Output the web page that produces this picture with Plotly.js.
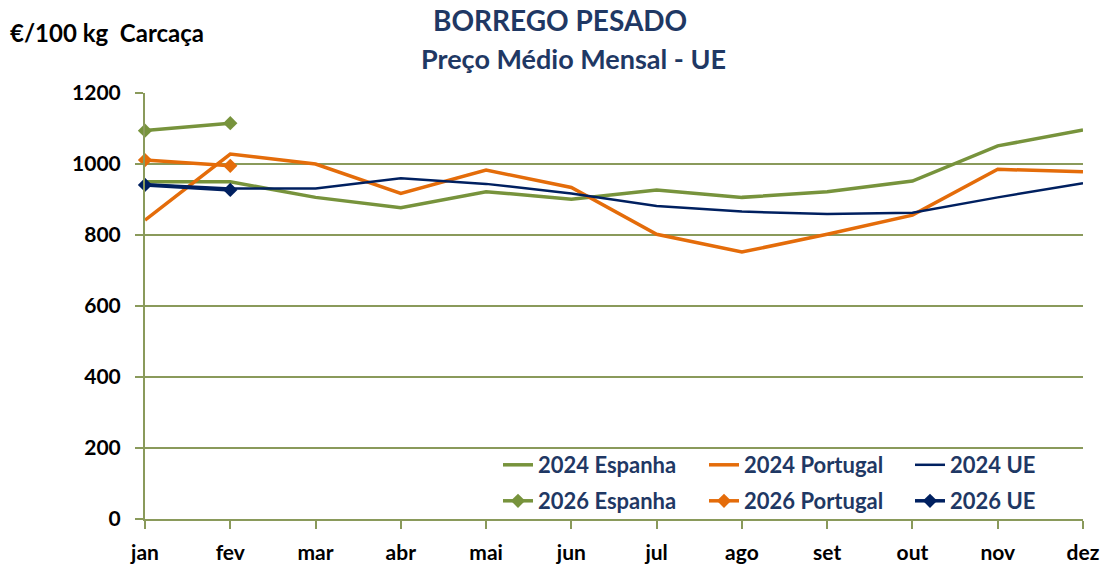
<!DOCTYPE html>
<html><head><meta charset="utf-8">
<script src="https://cdn.plot.ly/plotly-3.0.1.min.js"></script>
<style>html,body{margin:0;padding:0;background:#fff}#chart{width:1106px;height:564px}</style>
</head><body><div id="chart"></div>
<script>
const months = ['jan','fev','mar','abr','mai','jun','jul','ago','set','out','nov','dez'];
const esp2024 = [950, 950, 906, 877, 922, 901, 927, 906, 922, 952, 1051, 1096];
const por2024 = [842, 1028, 1000, 917, 983, 934, 802, 752, 802, 856, 985, 978];
const ue2024  = [943, 931, 931, 960, 944, 917, 882, 866, 859, 863, 906, 946];
const esp2026 = [1094, 1115];
const por2026 = [1011, 995];
const ue2026  = [941, 927];
const yTicks = [0, 200, 400, 600, 800, 1000, 1200];

const GREEN = '#77933C', ORANGE = '#E46C0A', NAVY = '#002060', TXT = '#1F3864', GRID = '#8A9A5B';
const FONT = 'Lato, "Open Sans", sans-serif';

function tr(name, y, color, width, marker, legend) {
  const t = {type:'scatter', x: months.slice(0, y.length), y: y, name: name,
    mode: marker ? 'lines+markers' : 'lines', line: {color: color, width: width},
    cliponaxis: false, legend: legend};
  if (marker) t.marker = {symbol:'diamond', size: 11, color: color};
  return t;
}
const data = [
  tr('2024 Espanha', esp2024, GREEN, 3.5, false, 'legend'),
  tr('2024 Portugal', por2024, ORANGE, 3.5, false, 'legend'),
  tr('2024 UE', ue2024, NAVY, 2.5, false, 'legend'),
  tr('2026 Espanha', esp2026, GREEN, 3.5, true, 'legend2'),
  tr('2026 Portugal', por2026, ORANGE, 3.5, true, 'legend2'),
  tr('2026 UE', ue2026, NAVY, 3.5, true, 'legend2')
];
const legBase = {orientation:'h', xref:'container', yref:'container', xanchor:'left', yanchor:'middle', x:498/1106, entrywidth:161,
  bgcolor:'rgba(0,0,0,0)', font:{family:FONT, size:22, color:TXT, weight:'bold'}, itemwidth:30, traceorder:'normal'};
const layout = {
  width:1106, height:564, margin:{l:145, r:23, t:93, b:45, autoexpand:false},
  paper_bgcolor:'#fff', plot_bgcolor:'#fff', showlegend:true,
  font:{family:FONT, color:'#000'},
  xaxis:{type:'category', categoryorder:'array', categoryarray: months, range:[0, 11], automargin:false,
    showgrid:false, showline:true, linecolor:GRID, linewidth:2, ticks:'outside', ticklen:8,
    tickcolor:GRID, tickwidth:2, tickfont:{family:FONT, size:21, color:'#000', weight:'bold'},
    ticklabelstandoff:6, zeroline:false, fixedrange:true},
  yaxis:{range:[0, 1200], tickvals: yTicks, ticktext: yTicks.map(String), showgrid:true, gridcolor:GRID, gridwidth:1.5, automargin:false,
    showline:true, linecolor:GRID, linewidth:2, ticks:'outside', ticklen:8, tickcolor:GRID, tickwidth:1.5,
    tickfont:{family:FONT, size:21, color:'#000', weight:'bold'}, ticklabelstandoff:10, zeroline:false, fixedrange:true},
  legend: Object.assign({}, legBase, {y:1 - 465/564}),
  legend2: Object.assign({}, legBase, {y:1 - 501/564}),
  annotations:[
    {xref:'paper', yref:'paper', x:(560-145)/938, y:(519-20)/426, xanchor:'center', yanchor:'middle', showarrow:false,
      text:'BORREGO PESADO', font:{family:FONT, size:28, color:TXT, weight:'bold'}},
    {xref:'paper', yref:'paper', x:(573-145)/938, y:(519-58)/426, xanchor:'center', yanchor:'middle', showarrow:false,
      text:'Preço Médio Mensal - UE', font:{family:FONT, size:27, color:TXT, weight:'bold'}},
    {xref:'paper', yref:'paper', x:(8-145)/938, y:(519-32)/426, xanchor:'left', yanchor:'middle', showarrow:false,
      text:'€/100 kg  Carcaça', font:{family:FONT, size:24, color:'#000', weight:'bold'}}
  ]
};
Plotly.newPlot('chart', data, layout, {displayModeBar:false, staticPlot:true});
</script></body></html>
